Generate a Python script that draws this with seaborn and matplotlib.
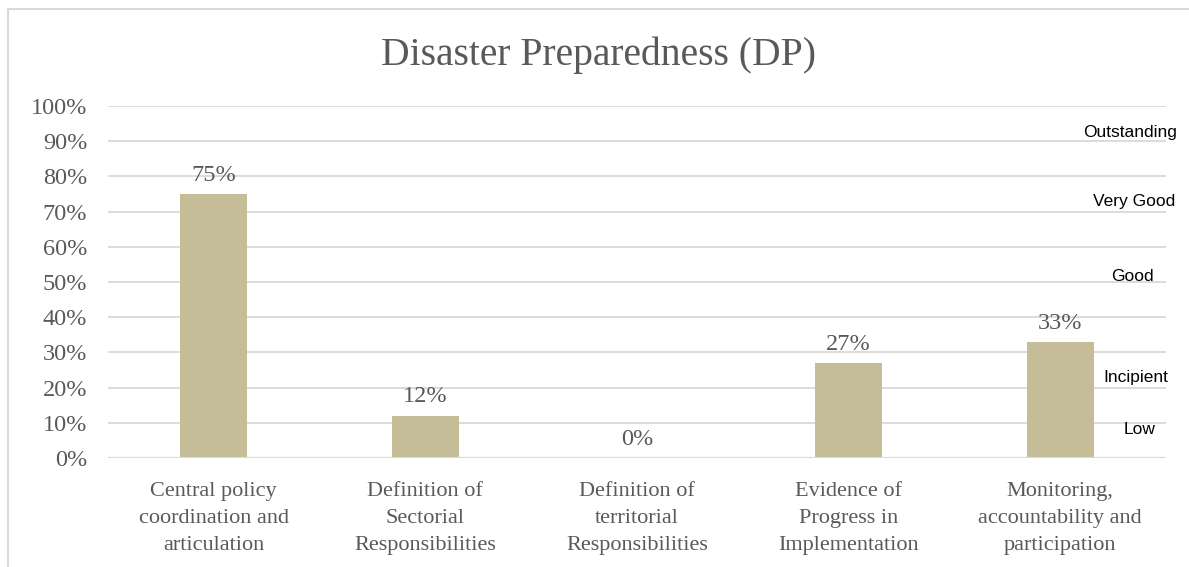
import matplotlib
matplotlib.use("Agg")
import matplotlib.pyplot as plt
from matplotlib.lines import Line2D
import seaborn as sns
import pandas as pd

categories = [
    "Central policy\ncoordination and\narticulation",
    "Definition of\nSectorial\nResponsibilities",
    "Definition of\nterritorial\nResponsibilities",
    "Evidence of\nProgress in\nImplementation",
    "Monitoring,\naccountability and\nparticipation",
]
values = [75, 12, 0, 27, 33]
value_labels = ["75%", "12%", "0%", "27%", "33%"]
y_ticks = [0, 10, 20, 30, 40, 50, 60, 70, 80, 90, 100]
y_tick_labels = [f"{t}%" for t in y_ticks]
levels = ["Outstanding", "Very Good", "Good", "Incipient", "Low"]
level_heights = [92.6, 73.0, 51.7, 23.0, 8.2]
level_x = [0.966, 0.970, 0.968, 0.971, 0.975]

BAR = "#C4BD97"
TEXT = "#595959"
GRID = "#D9D9D9"
SERIF = ["Liberation Serif", "DejaVu Serif"]

sns.set_theme(style="white")
plt.rcParams["font.family"] = SERIF

df = pd.DataFrame({"category": categories, "value": values})

fig = plt.figure(figsize=(11.89, 5.67), dpi=100)
ax = fig.add_axes([108 / 1189, (567 - 458) / 567, (1166 - 108) / 1189, (458 - 106) / 567])

sns.barplot(data=df, x="category", y="value", color=BAR, width=0.317,
            saturation=1, linewidth=0, ax=ax, zorder=3)

ax.set_ylim(0, 100)
ax.set_yticks(y_ticks)
ax.set_yticklabels(y_tick_labels, fontsize=17.5, color=TEXT)
ax.tick_params(axis="x", labelsize=16, labelcolor=TEXT, length=0, pad=17)
ax.tick_params(axis="y", length=0, pad=15)
for lbl in ax.get_xticklabels():
    lbl.set_linespacing(1.6)
ax.set_xlabel("")
ax.set_ylabel("")
ax.yaxis.grid(True, color=GRID, linewidth=1.3, zorder=0)
for s in ax.spines.values():
    s.set_visible(False)
ax.axhline(0, color=GRID, linewidth=1.6, zorder=4)

for i, (v, t) in enumerate(zip(values, value_labels)):
    ax.annotate(t, (i, v), xytext=(0, 6), textcoords="offset points",
                ha="center", va="bottom", fontsize=17.5, color=TEXT)

for name, h, x in zip(levels, level_heights, level_x):
    ax.text(x, h, name, transform=ax.get_yaxis_transform(), ha="center",
            va="center", fontsize=12.5, color="black",
            family=["Liberation Sans", "DejaVu Sans"], zorder=5)

fig.text(0.503, (567 - 55) / 567, "Disaster Preparedness (DP)", ha="center", va="center",
         fontsize=28.5, color=TEXT)

# chart frame edges
fig.add_artist(Line2D([8 / 1189, 8 / 1189], [0, (567 - 9) / 567], color=GRID, linewidth=1.5,
                      transform=fig.transFigure))
fig.add_artist(Line2D([8 / 1189, 1], [(567 - 9) / 567, (567 - 9) / 567], color=GRID, linewidth=1.5,
                      transform=fig.transFigure))

fig.savefig("out.png", dpi=100)
